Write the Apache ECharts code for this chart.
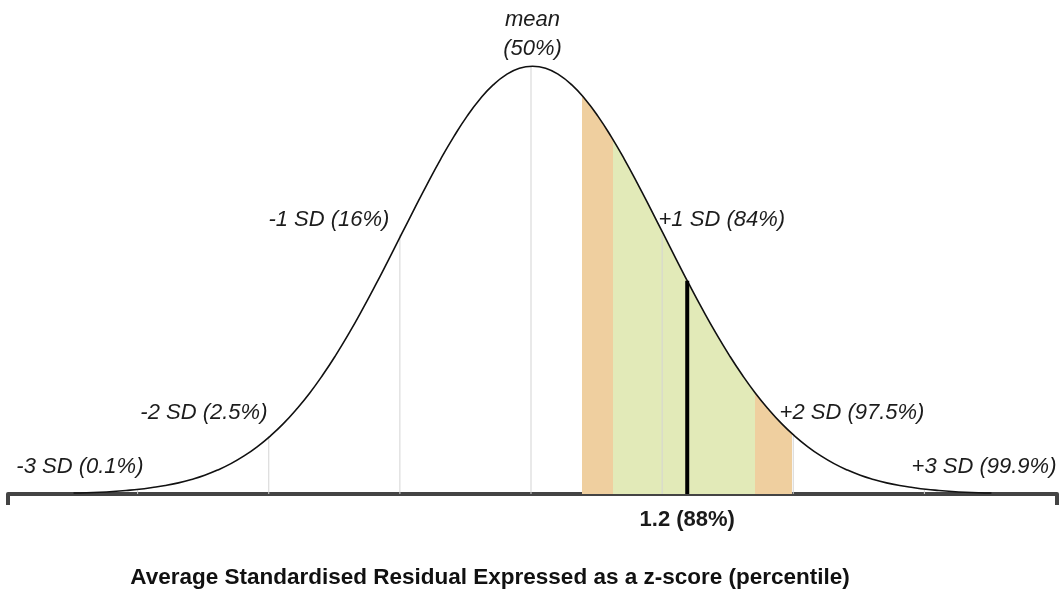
<!DOCTYPE html>
<html>
<head>
<meta charset="utf-8">
<script src="https://cdn.jsdelivr.net/npm/echarts@6/dist/echarts.min.js"></script>
<style>html,body{margin:0;padding:0;background:#fff}#c{width:1063px;height:589px}</style>
</head>
<body>
<div id="c"></div>
<script>
// z-scores along the curve
const zValues = [-3.5,-3.4,-3.3,-3.2,-3.1,-3.0,-2.9,-2.8,-2.7,-2.6,-2.5,-2.4,-2.3,-2.2,-2.1,-2.0,-1.9,-1.8,-1.7,-1.6,-1.5,-1.4,-1.3,-1.2,-1.1,-1.0,-0.9,-0.8,-0.7,-0.6,-0.5,-0.4,-0.3,-0.2,-0.1,0.0,0.1,0.2,0.3,0.4,0.5,0.6,0.7,0.8,0.9,1.0,1.1,1.2,1.3,1.4,1.5,1.6,1.7,1.8,1.9,2.0,2.1,2.2,2.3,2.4,2.5,2.6,2.7,2.8,2.9,3.0,3.1,3.2,3.3,3.4,3.5];
// curve heights
const density = [0.0009,0.0012,0.0017,0.0024,0.0033,0.0044,0.0060,0.0079,0.0104,0.0136,0.0175,0.0224,0.0283,0.0355,0.0440,0.0540,0.0656,0.0790,0.0940,0.1109,0.1295,0.1497,0.1714,0.1942,0.2179,0.2420,0.2661,0.2897,0.3123,0.3332,0.3521,0.3683,0.3814,0.3910,0.3970,0.3989,0.3970,0.3910,0.3814,0.3683,0.3521,0.3332,0.3123,0.2897,0.2661,0.2420,0.2179,0.1942,0.1714,0.1497,0.1295,0.1109,0.0940,0.0790,0.0656,0.0540,0.0440,0.0355,0.0283,0.0224,0.0175,0.0136,0.0104,0.0079,0.0060,0.0044,0.0033,0.0024,0.0017,0.0012,0.0009];
// SD reference lines
const sdZ = [-3,-2,-1,0,1,2,3];
const sdHeight = [0.0044,0.0540,0.2420,0.3989,0.2420,0.0540,0.0044];
// SD labels
const sdLabels = ['-3 SD (0.1%)','-2 SD (2.5%)','-1 SD (16%)','mean\n(50%)','+1 SD (84%)','+2 SD (97.5%)','+3 SD (99.9%)'];
const sdLabelZ = [-2.967,-2.021,-1.091,0,0.961,1.884,2.891];
const sdLabelY = [0.0252,0.0755,0.2554,0.4287,0.2554,0.0755,0.0252];
const sdLabelAlign = ['right','right','right','center','left','left','left'];
// shaded bands [from, to]
const outerBands = [[0.374,0.611],[1.70,1.98]];
const innerBand = [0.611,1.70];
// marker
const markerZ = 1.18;
const markerHeight = 0.1989;
const markerLabel = '1.2 (88%)';
const axisTitle = 'Average Standardised Residual Expressed as a z-score (percentile)';

const curve = zValues.map((z,i)=>[z,density[i]]);
const ORANGE = '#efcf9f', GREEN = '#e2eab8';
const chart = echarts.init(document.getElementById('c'));
chart.setOption({
  animation:false,
  grid:{left:8,right:6,top:65,bottom:95},
  xAxis:{type:'value',min:-4,max:4,
    axisLine:{show:true,onZero:false,lineStyle:{color:'#444',width:4}},
    axisTick:{show:true,customValues:[-4,4],length:11,lineStyle:{color:'#444',width:4}},
    splitLine:{show:false},
    axisLabel:{show:true,customValues:[markerZ],formatter:()=>markerLabel,margin:15,
      fontFamily:'Liberation Sans',fontWeight:'bold',fontSize:22,color:'#1a1a1a'}},
  yAxis:{type:'value',min:0,max:0.4,show:false},
  visualMap:{type:'piecewise',show:false,dimension:0,seriesIndex:0,
    pieces:[
      {min:outerBands[0][0],max:outerBands[0][1],color:ORANGE},
      {min:innerBand[0],max:innerBand[1],color:GREEN},
      {min:outerBands[1][0],max:outerBands[1][1],color:ORANGE}
    ],
    outOfRange:{color:'rgba(255,255,255,0)'}},
  series:[
    {type:'line',data:curve,smooth:true,showSymbol:false,lineStyle:{width:0},areaStyle:{opacity:1},z:1},
    {type:'bar',data:sdZ.map((z,i)=>[z,sdHeight[i]]),barWidth:1,itemStyle:{color:'#d4d4d4'},z:2,barGap:'-100%'},
    {type:'line',data:curve,smooth:true,showSymbol:false,lineStyle:{color:'#111',width:1.6},z:3},
    {type:'bar',data:[[markerZ,markerHeight]],barWidth:4,itemStyle:{color:'#000'},z:4,barGap:'-100%'},
    {type:'scatter',symbolSize:0,z:5,silent:true,clip:false,
      data:sdLabels.map((t,i)=>({value:[sdLabelZ[i],sdLabelY[i]],name:t,
        label:{align:sdLabelAlign[i]}})),
      label:{show:true,position:'inside',formatter:p=>p.name,verticalAlign:'middle',
        textBorderWidth:0,textBorderColor:'transparent',opacity:1,
        fontFamily:'Liberation Sans',fontStyle:'italic',fontSize:22,lineHeight:29,color:'#1c1c1c'}}
  ],
  graphic:[{type:'text',x:490,y:578,style:{text:axisTitle,align:'center',verticalAlign:'middle',
    font:'bold 22.5px "Liberation Sans"',fill:'#111'}}]
});
</script>
</body>
</html>
